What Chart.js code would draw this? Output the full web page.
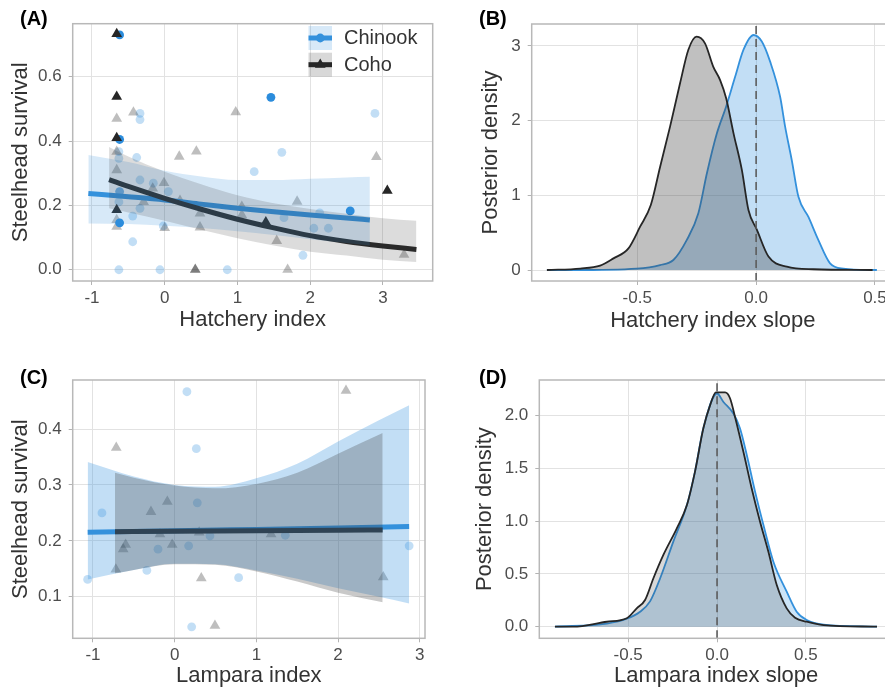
<!DOCTYPE html>
<html><head><meta charset="utf-8">
<script src="https://cdn.jsdelivr.net/npm/chart.js@4.4.1/dist/chart.umd.min.js"></script>
<style>
html,body{margin:0;padding:0;background:#fff;}
body{width:885px;height:693px;overflow:hidden;position:relative;font-family:'Liberation Sans',Arial,sans-serif;}
canvas{position:absolute;}
.lab{position:absolute;font-weight:bold;font-size:20px;line-height:20px;color:#000;white-space:nowrap;}
</style></head><body>
<canvas id="cA" width="440" height="345" style="left:0;top:0;width:440px;height:345px"></canvas>
<canvas id="cB" width="461" height="345" style="left:440px;top:0;width:461px;height:345px"></canvas>
<canvas id="cC" width="440" height="348" style="left:0;top:345px;width:440px;height:348px"></canvas>
<canvas id="cD" width="461" height="348" style="left:440px;top:345px;width:461px;height:348px"></canvas>
<div class="lab" style="left:20px;top:7.5px">(A)</div>
<div class="lab" style="left:479px;top:7.5px">(B)</div>
<div class="lab" style="left:20px;top:366.5px">(C)</div>
<div class="lab" style="left:479px;top:366.5px">(D)</div>
<script>
// ---------------- DATA ----------------
const species = ['Chinook', 'Coho'];
const panelTitles = {
  A: ['Hatchery index', 'Steelhead survival'],
  B: ['Hatchery index slope', 'Posterior density'],
  C: ['Lampara index', 'Steelhead survival'],
  D: ['Lampara index slope', 'Posterior density']
};
// tick values and labels
const idxTicks = [-1, 0, 1, 2, 3];
const idxTickLabels = ['-1', '0', '1', '2', '3'];
const survTicksA = [0, 0.2, 0.4, 0.6];
const survTickLabelsA = ['0.0', '0.2', '0.4', '0.6'];
const survTicksC = [0.1, 0.2, 0.3, 0.4];
const survTickLabelsC = ['0.1', '0.2', '0.3', '0.4'];
const slopeTicks = [-0.5, 0, 0.5];
const slopeTickLabels = ['-0.5', '0.0', '0.5'];
const densTicksB = [0, 1, 2, 3];
const densTickLabelsB = ['0', '1', '2', '3'];
const densTicksD = [0, 0.5, 1, 1.5, 2];
const densTickLabelsD = ['0.0', '0.5', '1.0', '1.5', '2.0'];
// axis limits
const limA = {x: [-1.265, 3.684], y: [-0.035, 0.765]};
const limB = {x: [-0.944, 0.58], y: [-0.147, 3.294]};
const limC = {x: [-1.248, 3.064], y: [0.0255, 0.488]};
const limD = {x: [-1.0, 0.99], y: [-0.11, 2.338]};

// Panel A observations [hatchery index, steelhead survival]
const chinookA_faint = [[-0.63,0.367],[-0.63,0.346],[-0.34,0.486],[-0.34,0.467],[-0.385,0.349],[-0.34,0.279],[-0.157,0.269],[0.05,0.243],[-0.63,0.211],[-0.34,0.191],[-0.44,0.167],[-0.44,0.087],[-0.02,0.136],[-0.63,0.0],[-0.065,0.0],[0.86,0.0],[1.23,0.305],[1.61,0.365],[1.64,0.162],[2.05,0.129],[2.25,0.129],[2.13,0.177],[1.9,0.045],[2.89,0.486]];
const chinookA_mid = [[-0.62,0.243]];
const chinookA_strong = [[-0.62,0.73],[-0.62,0.405],[1.46,0.536],[2.55,0.183],[-0.62,0.146]];
const cohoA_faint = [[-0.43,0.489],[-0.66,0.47],[0.976,0.49],[0.435,0.368],[0.2,0.352],[-0.66,0.367],[-0.66,0.31],[-0.01,0.27],[-0.165,0.253],[-0.29,0.211],[0.21,0.215],[-0.66,0.155],[-0.66,0.134],[0.0,0.13],[0.485,0.132],[0.485,0.175],[1.06,0.196],[1.06,0.17],[1.82,0.212],[1.54,0.09],[1.69,0.0],[2.91,0.351],[3.29,0.047]];
const cohoA_mid = [[0.42,0.0]];
const cohoA_strong = [[-0.66,0.733],[-0.66,0.538],[-0.66,0.41],[-0.66,0.186],[1.39,0.148],[3.06,0.246]];
// Panel A fitted curves and 95% bands
const chinookFitA_x = [-1.05,-0.5,0,0.5,1,1.5,2,2.5,2.82];
const chinookFitA_y = [0.237,0.227,0.217,0.204,0.191,0.180,0.170,0.161,0.155];
const chinookLoA = [0.144,0.142,0.137,0.130,0.120,0.108,0.095,0.083,0.075];
const chinookHiA = [0.357,0.335,0.308,0.290,0.279,0.279,0.283,0.287,0.289];
const cohoFitA_x = [-0.765,-0.5,0,0.5,1,1.5,2,2.5,3,3.46];
const cohoFitA_y = [0.280,0.259,0.222,0.188,0.157,0.130,0.106,0.088,0.074,0.063];
const cohoLoA = [0.191,0.178,0.152,0.124,0.098,0.075,0.056,0.044,0.031,0.024];
const cohoHiA = [0.382,0.352,0.305,0.266,0.232,0.207,0.189,0.174,0.160,0.152];

// Panel C observations [lampara index, steelhead survival]
const chinookC = [[0.15,0.467],[0.265,0.365],[-0.89,0.25],[0.277,0.268],[-1.065,0.131],[-0.34,0.147],[-0.204,0.185],[0.171,0.191],[0.432,0.209],[0.783,0.134],[1.354,0.21],[0.208,0.046],[2.87,0.191]];
const cohoC = [[-0.715,0.367],[2.097,0.469],[-0.09,0.27],[-0.29,0.252],[-0.18,0.212],[-0.6,0.193],[-0.63,0.185],[-0.03,0.193],[-0.72,0.149],[0.326,0.133],[0.493,0.048],[1.18,0.212],[2.553,0.135],[0.3,0.215]];
const chinookFitC_x = [-1.065,0,1,2,2.87];
const chinookFitC_y = [0.2155,0.218,0.2205,0.223,0.2255];
const chinookBandC_x = [-1.065,-0.5,0,0.5,1,1.5,2,2.5,2.87];
const chinookLoC = [0.131,0.148,0.159,0.158,0.147,0.132,0.115,0.100,0.088];
const chinookHiC = [0.341,0.315,0.300,0.297,0.312,0.338,0.378,0.416,0.443];
const cohoFitC_x = [-0.73,0,1,2,2.546];
const cohoFitC_y = [0.2165,0.2172,0.218,0.2189,0.2195];
const cohoBandC_x = [-0.73,-0.5,0,0.5,1,1.5,2,2.546];
const cohoLoC = [0.142,0.148,0.158,0.157,0.145,0.127,0.107,0.090];
const cohoHiC = [0.322,0.313,0.299,0.294,0.302,0.322,0.356,0.393];

// Panel B posterior densities
const cohoDensB_x = [-0.88,-0.74,-0.656,-0.6,-0.537,-0.488,-0.443,-0.404,-0.362,-0.32,-0.285,-0.25,-0.215,-0.18,-0.151,-0.126,-0.095,-0.06,-0.032,0.003,0.052,0.129,0.241,0.49];
const cohoDensB_y = [0,0.02,0.06,0.156,0.29,0.58,0.87,1.38,1.92,2.5,2.95,3.125,3.035,2.72,2.54,2.30,1.83,1.34,0.80,0.54,0.18,0.045,0.01,0];
const chinookDensB_x = [-0.88,-0.77,-0.502,-0.404,-0.348,-0.292,-0.243,-0.207,-0.165,-0.126,-0.088,-0.053,-0.011,0.024,0.059,0.101,0.122,0.15,0.178,0.22,0.262,0.311,0.367,0.508];
const chinookDensB_y = [0,0,0.02,0.067,0.134,0.40,0.76,1.295,1.83,2.19,2.59,2.95,3.147,3.06,2.79,2.32,1.92,1.47,0.98,0.71,0.40,0.09,0.02,0];
// Panel D posterior densities
const cohoDensD_x = [-0.912,-0.81,-0.62,-0.508,-0.452,-0.405,-0.358,-0.302,-0.227,-0.17,-0.124,-0.077,-0.039,-0.006,0.045,0.073,0.101,0.148,0.195,0.242,0.289,0.336,0.392,0.439,0.505,0.6,0.9];
const cohoDensD_y = [0,0,0.047,0.08,0.174,0.253,0.459,0.68,0.93,1.15,1.47,1.88,2.10,2.22,2.22,2.165,1.99,1.66,1.31,0.995,0.71,0.395,0.174,0.085,0.047,0.015,0];
const chinookDensD_x = [-0.912,-0.62,-0.508,-0.433,-0.377,-0.32,-0.246,-0.17,-0.124,-0.077,0.0,0.036,0.092,0.129,0.167,0.214,0.261,0.317,0.392,0.448,0.505,0.6,0.9];
const chinookDensD_y = [0,0.03,0.075,0.142,0.24,0.459,0.806,1.15,1.47,1.88,2.21,2.13,2.02,1.88,1.63,1.28,0.964,0.616,0.332,0.142,0.063,0.02,0];
const zeroSlope = 0;

// ---------------- STYLE / HELPERS ----------------
const FONT = "'Liberation Sans', Arial, sans-serif";
Chart.defaults.font.family = FONT;
const BLUE = '#3491dc';
const DARK = '#262626';
const TRI_R = 6.2, CIRC_R = 4.4;
const pairs = arr => arr.map(([x, y]) => ({x, y}));
const zip = (xs, ys) => xs.map((x, i) => ({x, y: ys[i]}));

function axis(kind, lim, ticks, labels, title, titlePad, fit) {
  return {
    type: 'linear', min: lim[0], max: lim[1],
    afterBuildTicks: s => { s.ticks = ticks.map(v => ({value: v})); },
    afterFit: s => { if (kind === 'x') s.height = fit; else s.width = fit; },
    ticks: {autoSkip: false, maxRotation: 0, minRotation: 0, padding: kind === 'x' ? 3 : 7,
      color: '#4d4d4d', font: {size: 17}, callback: (v, i) => labels[i]},
    grid: {color: '#e2e2e2', lineWidth: 1, drawTicks: true, tickLength: 4, tickColor: '#b3b3b3', tickWidth: 1},
    border: {display: false},
    title: {display: true, text: title, color: '#333', font: {size: 22},
      padding: kind === 'x' ? {top: 0, bottom: titlePad} : {top: titlePad, bottom: 0}}
  };
}
const frame = {id: 'frame', afterDatasetsDraw(chart) {
  const {ctx, chartArea: a} = chart;
  ctx.save(); ctx.strokeStyle = '#b8b8b8'; ctx.lineWidth = 1.5;
  ctx.strokeRect(a.left, a.top, a.right - a.left, a.bottom - a.top); ctx.restore();
}};
function baseOptions(pad, xs, ys) {
  return {responsive: false, animation: false, devicePixelRatio: 1, events: [],
    layout: {padding: {left: 0, bottom: 0, top: pad.top, right: pad.right}},
    plugins: {legend: {display: false}, tooltip: {enabled: false}},
    scales: {x: xs, y: ys}};
}
const pointSet = (data, style, color, order) => ({data: pairs(data), showLine: false, pointStyle: style,
  pointRadius: style === 'triangle' ? TRI_R : CIRC_R, pointBackgroundColor: color, backgroundColor: color,
  pointBorderWidth: 0, borderColor: 'transparent', order});
const lineSet = (xs, ys, color, order) => ({data: zip(xs, ys), borderColor: color, borderWidth: 5, pointRadius: 0,
  fill: false, cubicInterpolationMode: 'monotone', borderCapStyle: 'butt', order});
const bandLo = (xs, ys, order) => ({data: zip(xs, ys), borderColor: 'transparent', borderWidth: 0, pointRadius: 0,
  fill: false, cubicInterpolationMode: 'monotone', order});
const bandHi = (xs, ys, color, order) => ({data: zip(xs, ys), borderColor: 'transparent', borderWidth: 0, pointRadius: 0,
  fill: '-1', backgroundColor: color, cubicInterpolationMode: 'monotone', order});
const densSet = (xs, ys, line, fillc, order) => ({data: zip(xs, ys), borderColor: line, borderWidth: 1.8, pointRadius: 0,
  fill: 'origin', backgroundColor: fillc, cubicInterpolationMode: 'monotone', order});
const vline = (x, lim) => ({data: [{x, y: lim[0]}, {x, y: lim[1]}], borderColor: '#5c5c5c', borderWidth: 1.6,
  borderDash: [8, 5], pointRadius: 0, fill: false, tension: 0, order: 0});

// legend for panel A
const legendA = {id: 'legendA', afterDatasetsDraw(chart) {
  const ctx = chart.ctx;
  const keys = [{bg: 'rgba(53,146,222,0.2)', col: BLUE, shape: 'circle'},
                {bg: 'rgba(60,60,60,0.2)', col: DARK, shape: 'triangle'}];
  ctx.save();
  keys.forEach((k, i) => {
    const top = 26 + i * 26.7, left = 308.5, w = 23.5, h = 24, cy = top + h / 2, cx = left + w / 2;
    ctx.fillStyle = k.bg; ctx.fillRect(left, top, w, h);
    ctx.strokeStyle = k.col; ctx.lineWidth = 5; ctx.beginPath(); ctx.moveTo(left, cy); ctx.lineTo(left + w, cy); ctx.stroke();
    ctx.fillStyle = k.col; ctx.beginPath();
    if (k.shape === 'circle') { ctx.arc(cx, cy, CIRC_R, 0, Math.PI * 2); }
    else { const r = TRI_R; ctx.moveTo(cx, cy - r); ctx.lineTo(cx + r * 0.866, cy + r / 2); ctx.lineTo(cx - r * 0.866, cy + r / 2); ctx.closePath(); }
    ctx.fill();
    ctx.fillStyle = '#333'; ctx.font = '20px ' + FONT; ctx.textBaseline = 'middle'; ctx.textAlign = 'left';
    ctx.fillText(species[i], 344, cy + 0.5);
  });
  ctx.restore();
}};

// ---------------- PANEL A ----------------
new Chart(document.getElementById('cA'), {
  type: 'line',
  data: {datasets: [
    pointSet(chinookA_faint, 'circle', 'rgba(53,146,222,0.3)', 26),
    pointSet(cohoA_faint, 'triangle', 'rgba(40,40,40,0.3)', 25),
    pointSet(chinookA_mid, 'circle', 'rgba(43,140,220,0.65)', 24),
    pointSet(cohoA_mid, 'triangle', 'rgba(38,38,38,0.6)', 23),
    pointSet(chinookA_strong, 'circle', '#2b8cdc', 22),
    pointSet(cohoA_strong, 'triangle', DARK, 21),
    lineSet(chinookFitA_x, chinookFitA_y, BLUE, 7),
    lineSet(cohoFitA_x, cohoFitA_y, DARK, 6),
    bandLo(chinookFitA_x, chinookLoA, 5),
    bandHi(chinookFitA_x, chinookHiA, 'rgba(53,146,222,0.2)', 4),
    bandLo(cohoFitA_x, cohoLoA, 3),
    bandHi(cohoFitA_x, cohoHiA, 'rgba(60,60,60,0.18)', 2)
  ]},
  options: baseOptions({top: 23.7, right: 7.3},
    axis('x', limA.x, idxTicks, idxTickLabels, panelTitles.A[0], 12.3, 64),
    axis('y', limA.y, survTicksA, survTickLabelsA, panelTitles.A[1], 7.5, 72.7)),
  plugins: [frame, legendA]
});

// ---------------- PANEL B ----------------
new Chart(document.getElementById('cB'), {
  type: 'line',
  data: {datasets: [
    densSet(chinookDensB_x, chinookDensB_y, BLUE, 'rgba(53,146,222,0.3)', 3),
    densSet(cohoDensB_x, cohoDensB_y, DARK, 'rgba(60,60,60,0.32)', 2),
    vline(zeroSlope, limB.y)
  ]},
  options: baseOptions({top: 24, right: 7},
    axis('x', limB.x, slopeTicks, slopeTickLabels, panelTitles.B[0], 10.7, 64),
    axis('y', limB.y, densTicksB, densTickLabelsB, panelTitles.B[1], 37.9, 91.7)),
  plugins: [frame]
});

// ---------------- PANEL C ----------------
new Chart(document.getElementById('cC'), {
  type: 'line',
  data: {datasets: [
    pointSet(chinookC, 'circle', 'rgba(53,146,222,0.3)', 26),
    pointSet(cohoC, 'triangle', 'rgba(40,40,40,0.3)', 25),
    lineSet(chinookFitC_x, chinookFitC_y, BLUE, 7),
    lineSet(cohoFitC_x, cohoFitC_y, DARK, 6),
    bandLo(chinookBandC_x, chinookLoC, 5),
    bandHi(chinookBandC_x, chinookHiC, 'rgba(53,146,222,0.3)', 4),
    bandLo(cohoBandC_x, cohoLoC, 3),
    bandHi(cohoBandC_x, cohoHiC, 'rgba(60,60,60,0.28)', 2)
  ]},
  options: baseOptions({top: 35, right: 15},
    axis('x', limC.x, idxTicks, idxTickLabels, panelTitles.C[0], 3.7, 54.7),
    axis('y', limC.y, survTicksC, survTickLabelsC, panelTitles.C[1], 7.5, 72.7)),
  plugins: [frame]
});

// ---------------- PANEL D ----------------
new Chart(document.getElementById('cD'), {
  type: 'line',
  data: {datasets: [
    densSet(chinookDensD_x, chinookDensD_y, BLUE, 'rgba(53,146,222,0.25)', 3),
    densSet(cohoDensD_x, cohoDensD_y, DARK, 'rgba(60,60,60,0.2)', 2),
    vline(zeroSlope, limD.y)
  ]},
  options: baseOptions({top: 35, right: 8},
    axis('x', limD.x, slopeTicks, slopeTickLabels, panelTitles.D[0], 3.7, 54.7),
    axis('y', limD.y, densTicksD, densTickLabelsD, panelTitles.D[1], 31.3, 99.3)),
  plugins: [frame]
});
</script>
</body></html>
